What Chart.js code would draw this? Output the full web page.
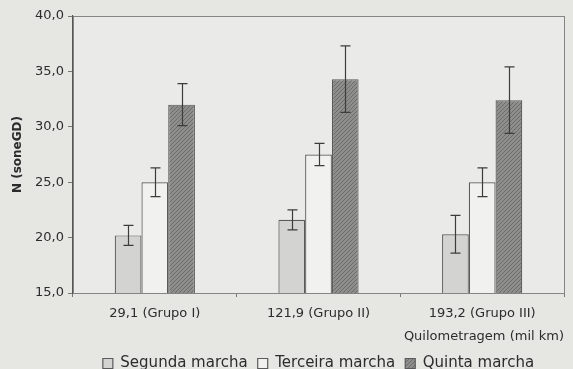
<!DOCTYPE html>
<html>
<head>
<meta charset="utf-8">
<script src="https://cdn.jsdelivr.net/npm/chart.js@4.4.1/dist/chart.umd.min.js"></script>
<style>
  html, body { margin: 0; padding: 0; background: #e6e6e3; }
  #wrap { width: 573px; height: 369px; position: relative; }
</style>
</head>
<body>
<div id="wrap"><canvas id="c" width="573" height="369"></canvas></div>
<script>
// Categories: mileage (thousand km) per vehicle group
const categories = ['29,1 (Grupo I)', '121,9 (Grupo II)', '193,2 (Grupo III)'];

// Mean loudness N (soneGD) per gear, with its error half-width
const segunda = [20.2, 21.6, 20.3];
const segundaErr = [0.9, 0.9, 1.7];
const terceira = [25.0, 27.5, 25.0];
const terceiraErr = [1.3, 1.0, 1.3];
const quinta = [32.0, 34.3, 32.4];
const quintaErr = [1.9, 3.0, 3.0];

const seriesNames = ['Segunda marcha', 'Terceira marcha', 'Quinta marcha'];
const yTicks = [15, 20, 25, 30, 35, 40];

const textColor = '#2c2c2c';
const family = "'DejaVu Sans', Verdana, sans-serif";

// Diagonal hatch fill for the fifth-gear bars
function hatch() {
  const p = document.createElement('canvas');
  p.width = 4; p.height = 4;
  const g = p.getContext('2d');
  g.fillStyle = '#8e8e8d';
  g.fillRect(0, 0, 4, 4);
  g.strokeStyle = '#6c6c6b';
  g.lineWidth = 1;
  g.beginPath();
  g.moveTo(0, 4); g.lineTo(4, 0);
  g.moveTo(-1, 1); g.lineTo(1, -1);
  g.moveTo(3, 5); g.lineTo(5, 3);
  g.stroke();
  return g.createPattern(p, 'repeat');
}
const ctx0 = document.getElementById('c').getContext('2d');
const quintaFill = hatch();

// Vertical error bars with caps, placed through the bar elements and y scale
const errorBars = {
  id: 'errorBars',
  afterDatasetsDraw(chart) {
    const ctx = chart.ctx;
    const y = chart.scales.y;
    ctx.save();
    ctx.strokeStyle = '#3c3c3c';
    ctx.lineWidth = 1.2;
    chart.data.datasets.forEach((ds, di) => {
      const meta = chart.getDatasetMeta(di);
      meta.data.forEach((bar, i) => {
        const v = ds.data[i], e = ds.errors[i];
        const x = Math.round(bar.x) + 0.5;
        const yt = y.getPixelForValue(v + e);
        const yb = y.getPixelForValue(v - e);
        ctx.beginPath();
        ctx.moveTo(x, yt); ctx.lineTo(x, yb);
        ctx.moveTo(x - 5, yt); ctx.lineTo(x + 5, yt);
        ctx.moveTo(x - 5, yb); ctx.lineTo(x + 5, yb);
        ctx.stroke();
      });
    });
    ctx.restore();
  }
};

// Frame around the plot area
const frame = {
  id: 'frame',
  beforeDatasetsDraw(chart) {
    const { left, top, right, bottom } = chart.chartArea;
    const ctx = chart.ctx;
    ctx.save();
    ctx.fillStyle = '#eaeae8';
    ctx.fillRect(left, top, right - left, bottom - top);
    ctx.strokeStyle = '#858585';
    ctx.lineWidth = 1;
    ctx.strokeRect(Math.round(left) + 0.5, Math.round(top) + 0.5,
                   Math.round(right - left), Math.round(bottom - top));
    ctx.restore();
  }
};

new Chart(ctx0, {
  type: 'bar',
  data: {
    labels: categories,
    datasets: [
      { label: seriesNames[0], data: segunda, errors: segundaErr,
        backgroundColor: '#d3d3d2', borderColor: '#5a5a5a', borderWidth: 1.2 },
      { label: seriesNames[1], data: terceira, errors: terceiraErr,
        backgroundColor: '#f1f1f0', borderColor: '#5a5a5a', borderWidth: 1.2 },
      { label: seriesNames[2], data: quinta, errors: quintaErr,
        backgroundColor: quintaFill, borderColor: '#5a5a5a', borderWidth: 1.2 }
    ]
  },
  options: {
    responsive: false,
    animation: false,
    devicePixelRatio: 1,
    layout: { padding: { top: 16, right: 9, left: 11, bottom: -12 } },
    datasets: { bar: { barPercentage: 1.0, categoryPercentage: 0.49 } },
    scales: {
      x: {
        grid: { display: true, drawOnChartArea: false, offset: true, tickLength: 4, color: '#777' },
        border: { color: '#555', width: 1.2 },
        ticks: { color: textColor, font: { family, size: 13 }, padding: 9, maxRotation: 0 },
        title: { display: true, text: 'Quilometragem (mil km)', align: 'end',
                 color: textColor, font: { family, size: 13 }, padding: { top: 0, bottom: 2 } },
        afterFit(s) { s.height = 53; }
      },
      y: {
        min: 15, max: 40,
        afterBuildTicks(s) { s.ticks = yTicks.map(v => ({ value: v })); },
        grid: { display: true, drawOnChartArea: false, tickLength: 5, color: '#777' },
        border: { color: '#555', width: 1.2 },
        ticks: {
          color: textColor, font: { family, size: 13 }, padding: 4,
          callback: v => v.toFixed(1).replace('.', ',')
        },
        title: { display: true, text: 'N (soneGD)', color: textColor,
                 font: { family, size: 12, weight: 'bold' }, padding: 0 },
        afterFit(s) { s.width = 62; }
      }
    },
    plugins: {
      legend: {
        position: 'bottom',
        fullSize: false,
        labels: {
          color: textColor, font: { family, size: 15 },
          boxWidth: 10, boxHeight: 10, padding: 10
        }
      },
      tooltip: { enabled: false }
    }
  },
  plugins: [frame, errorBars]
});
</script>
</body>
</html>
